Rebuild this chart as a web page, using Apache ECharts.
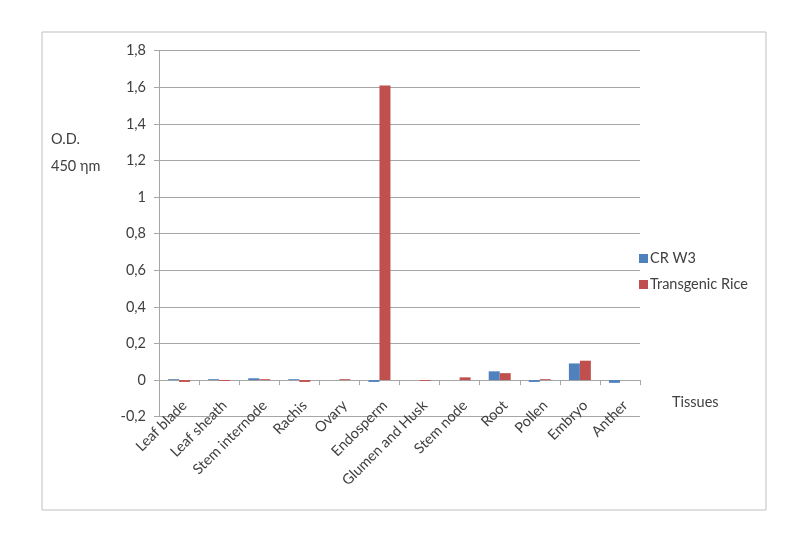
<!DOCTYPE html>
<html><head><meta charset="utf-8">
<script src="https://cdn.jsdelivr.net/npm/echarts@6/dist/echarts.min.js"></script>
<style>html,body{margin:0;padding:0;background:#fff}#c{width:800px;height:543px}</style>
</head><body><div id="c"></div>
<script>
const categories = ['Leaf blade','Leaf sheath','Stem internode','Rachis','Ovary','Endosperm','Glumen and Husk','Stem node','Root','Pollen','Embryo','Anther'];
const crW3 = [0.005, 0.005, 0.01, 0.005, 0, -0.01, 0, 0, 0.048, -0.01, 0.091, -0.015];
const transgenicRice = [-0.01, -0.005, 0.005, -0.01, 0.005, 1.61, -0.005, 0.015, 0.038, 0.005, 0.106, 0];
const yTicks = {min: -0.2, max: 1.8, interval: 0.2};
const FONT = 'Lato';
const FS = 14.5;
const chart = echarts.init(document.getElementById('c'));
chart.setOption({
  animation: false,
  grid: {left: 159, right: 160, top: 50.7, bottom: 126.3},
  legend: {
    orient: 'vertical', left: 634, top: 246, itemWidth: 9, itemHeight: 9, itemGap: 11,
    icon: 'rect',
    textStyle: {fontFamily: FONT, fontSize: FS, color: '#404040', padding: [0,0,0,-3]},
    data: ['CR W3', 'Transgenic Rice']
  },
  graphic: [
    {type: 'rect', shape: {x: 42, y: 32, width: 724, height: 478}, style: {fill: 'none', stroke: '#bfbfbf', lineWidth: 1}},
    {type: 'text', left: 51, top: 132, style: {text: 'O.D.', font: FS + 'px ' + FONT, fill: '#404040'}},
    {type: 'text', left: 51, top: 159, style: {text: '450 ηm', font: FS + 'px ' + FONT, fill: '#404040'}},
    {type: 'text', left: 672, top: 395, style: {text: 'Tissues', font: FS + 'px ' + FONT, fill: '#404040'}}
  ],
  xAxis: {
    type: 'category', data: categories,
    axisLine: {onZero: true, lineStyle: {color: '#a6a6a6'}},
    axisTick: {show: true, length: 5, inside: false, lineStyle: {color: '#a6a6a6'}},
    axisLabel: {rotate: 45, margin: -19, align: 'right', verticalAlign: 'top', fontFamily: FONT, fontSize: FS, color: '#404040', interval: 0},
    splitLine: {show: false}
  },
  yAxis: {
    type: 'value', min: yTicks.min, max: yTicks.max, interval: yTicks.interval,
    axisLine: {show: true, lineStyle: {color: '#a6a6a6'}},
    axisTick: {show: true, length: 5, lineStyle: {color: '#a6a6a6'}},
    axisLabel: {margin: 13, fontFamily: FONT, fontSize: FS, color: '#404040',
      formatter: v => { const r = Math.round(v*10)/10; return (Math.abs(r) < 1e-9 ? '0' : String(r)).replace('.', ','); }},
    splitLine: {show: true, lineStyle: {color: '#a6a6a6'}}
  },
  series: [
    {name: 'CR W3', type: 'bar', data: crW3, barWidth: 11, barGap: '0%', itemStyle: {color: '#4f81bd'}},
    {name: 'Transgenic Rice', type: 'bar', data: transgenicRice, barWidth: 11, barGap: '0%', itemStyle: {color: '#c0504d'}}
  ]
});
</script></body></html>
